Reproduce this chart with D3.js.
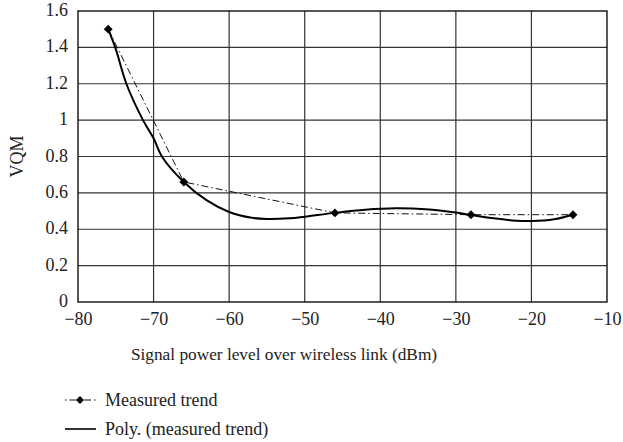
<!DOCTYPE html>
<html>
<head>
<meta charset="utf-8">
<script src="https://cdn.jsdelivr.net/npm/d3@7"></script>
<style>
  html, body { margin: 0; padding: 0; background: #fff; }
  svg { display: block; }
  svg text { font-family: "Liberation Serif", "Times New Roman", "DejaVu Serif", serif; }
</style>
</head>
<body>
<svg id="chart" width="623" height="442"></svg>
<script>
// Measured VQM vs. signal power level
const powerLevels = [-76, -66, -46, -28, -14.5];
const vqmMeasured = [1.5, 0.66, 0.49, 0.48, 0.48];

// Polynomial trend line of the measurements, sampled along the x range
const trendPower = [-76, -75, -73.6, -71.4, -70, -68.9, -66, -63, -60, -57, -55, -52, -50, -46, -42, -38, -34, -30, -28, -25, -22, -20, -17, -14.5];
const trendVqm   = [1.50, 1.39, 1.20, 1.00, 0.90, 0.80, 0.66, 0.56, 0.495, 0.463, 0.456, 0.46, 0.469, 0.49, 0.507, 0.515, 0.51, 0.492, 0.478, 0.46, 0.447, 0.445, 0.455, 0.48];

const xTicks = [-80, -70, -60, -50, -40, -30, -20, -10];
const yTicks = [0, 0.2, 0.4, 0.6, 0.8, 1, 1.2, 1.4, 1.6];
const xTitle = "Signal power level over wireless link (dBm)";
const yTitle = "VQM";
const legendLabels = ["Measured trend", "Poly. (measured trend)"];

const svg = d3.select("#chart");
const plot = { left: 78, right: 607, top: 11, bottom: 302 };
const textColor = "#222";

const x = d3.scaleLinear().domain([-80, -10]).range([plot.left, plot.right]);
const y = d3.scaleLinear().domain([0, 1.6]).range([plot.bottom, plot.top]);

const fmtMinus = v => (v < 0 ? "\u2212" + Math.abs(v) : String(v));

// Grid lines
const grid = svg.append("g");
grid.selectAll("line.gx").data(xTicks.slice(1, -1)).join("line")
  .attr("x1", d => x(d)).attr("x2", d => x(d))
  .attr("y1", plot.top).attr("y2", plot.bottom)
  .attr("stroke", "#333").attr("stroke-width", 1.2);
grid.selectAll("line.gy").data(yTicks.slice(1, -1)).join("line")
  .attr("x1", plot.left).attr("x2", plot.right)
  .attr("y1", d => y(d)).attr("y2", d => y(d))
  .attr("stroke", "#333").attr("stroke-width", 1.2);

// Plot frame
svg.append("rect")
  .attr("x", plot.left).attr("y", plot.top)
  .attr("width", plot.right - plot.left).attr("height", plot.bottom - plot.top)
  .attr("fill", "none").attr("stroke", "#111").attr("stroke-width", 1.4);

// Axes (labels only; frame and grid draw the lines)
const xAxis = svg.append("g")
  .attr("transform", `translate(0,${plot.bottom})`)
  .call(d3.axisBottom(x).tickValues(xTicks).tickFormat(fmtMinus).tickSize(0).tickPadding(10));
const yAxis = svg.append("g")
  .attr("transform", `translate(${plot.left},0)`)
  .call(d3.axisLeft(y).tickValues(yTicks).tickFormat(d => String(d)).tickSize(0).tickPadding(10));
[xAxis, yAxis].forEach(a => {
  a.select(".domain").remove();
  a.attr("font-family", null);
  a.selectAll("text").attr("font-size", 18).attr("fill", textColor);
});
yAxis.selectAll("text").attr("dy", "0.25em");

// Axis titles
svg.append("text")
  .attr("x", 284).attr("y", 360)
  .attr("text-anchor", "middle").attr("font-size", 17.3).attr("fill", textColor)
  .text(xTitle);
svg.append("text")
  .attr("transform", `translate(23,${(plot.top + plot.bottom) / 2}) rotate(-90)`)
  .attr("text-anchor", "middle").attr("font-size", 18).attr("fill", textColor)
  .text(yTitle);

// Measured series: dash-dot line with diamond markers
const measured = powerLevels.map((p, i) => [p, vqmMeasured[i]]);
svg.append("path")
  .datum(measured)
  .attr("d", d3.line().x(d => x(d[0])).y(d => y(d[1])))
  .attr("fill", "none").attr("stroke", "#111").attr("stroke-width", 1)
  .attr("stroke-dasharray", "7,3,1.5,3");

// Polynomial trend: solid curve
const trend = trendPower.map((p, i) => [p, trendVqm[i]]);
svg.append("path")
  .datum(trend)
  .attr("d", d3.line().x(d => x(d[0])).y(d => y(d[1])).curve(d3.curveCatmullRom.alpha(0.5)))
  .attr("fill", "none").attr("stroke", "#000").attr("stroke-width", 2);

const diamond = d3.symbol().type(d3.symbolDiamond2).size(50);
svg.selectAll("path.marker").data(measured).join("path")
  .attr("class", "marker")
  .attr("transform", d => `translate(${x(d[0])},${y(d[1])})`)
  .attr("d", diamond).attr("fill", "#000");

// Legend
const legend = svg.append("g");
const rows = [400, 429];
legend.append("line")
  .attr("x1", 65).attr("x2", 96).attr("y1", rows[0]).attr("y2", rows[0])
  .attr("stroke", "#111").attr("stroke-width", 1).attr("stroke-dasharray", "1.5,3,7,3");
legend.append("path")
  .attr("transform", `translate(80,${rows[0]})`)
  .attr("d", d3.symbol().type(d3.symbolDiamond2).size(40)).attr("fill", "#000");
legend.append("line")
  .attr("x1", 65).attr("x2", 96).attr("y1", rows[1]).attr("y2", rows[1])
  .attr("stroke", "#000").attr("stroke-width", 1.6);
legend.selectAll("text").data(legendLabels).join("text")
  .attr("x", 105).attr("y", (d, i) => rows[i] + 6)
  .attr("font-size", 18).attr("fill", textColor)
  .text(d => d);
</script>
</body>
</html>
